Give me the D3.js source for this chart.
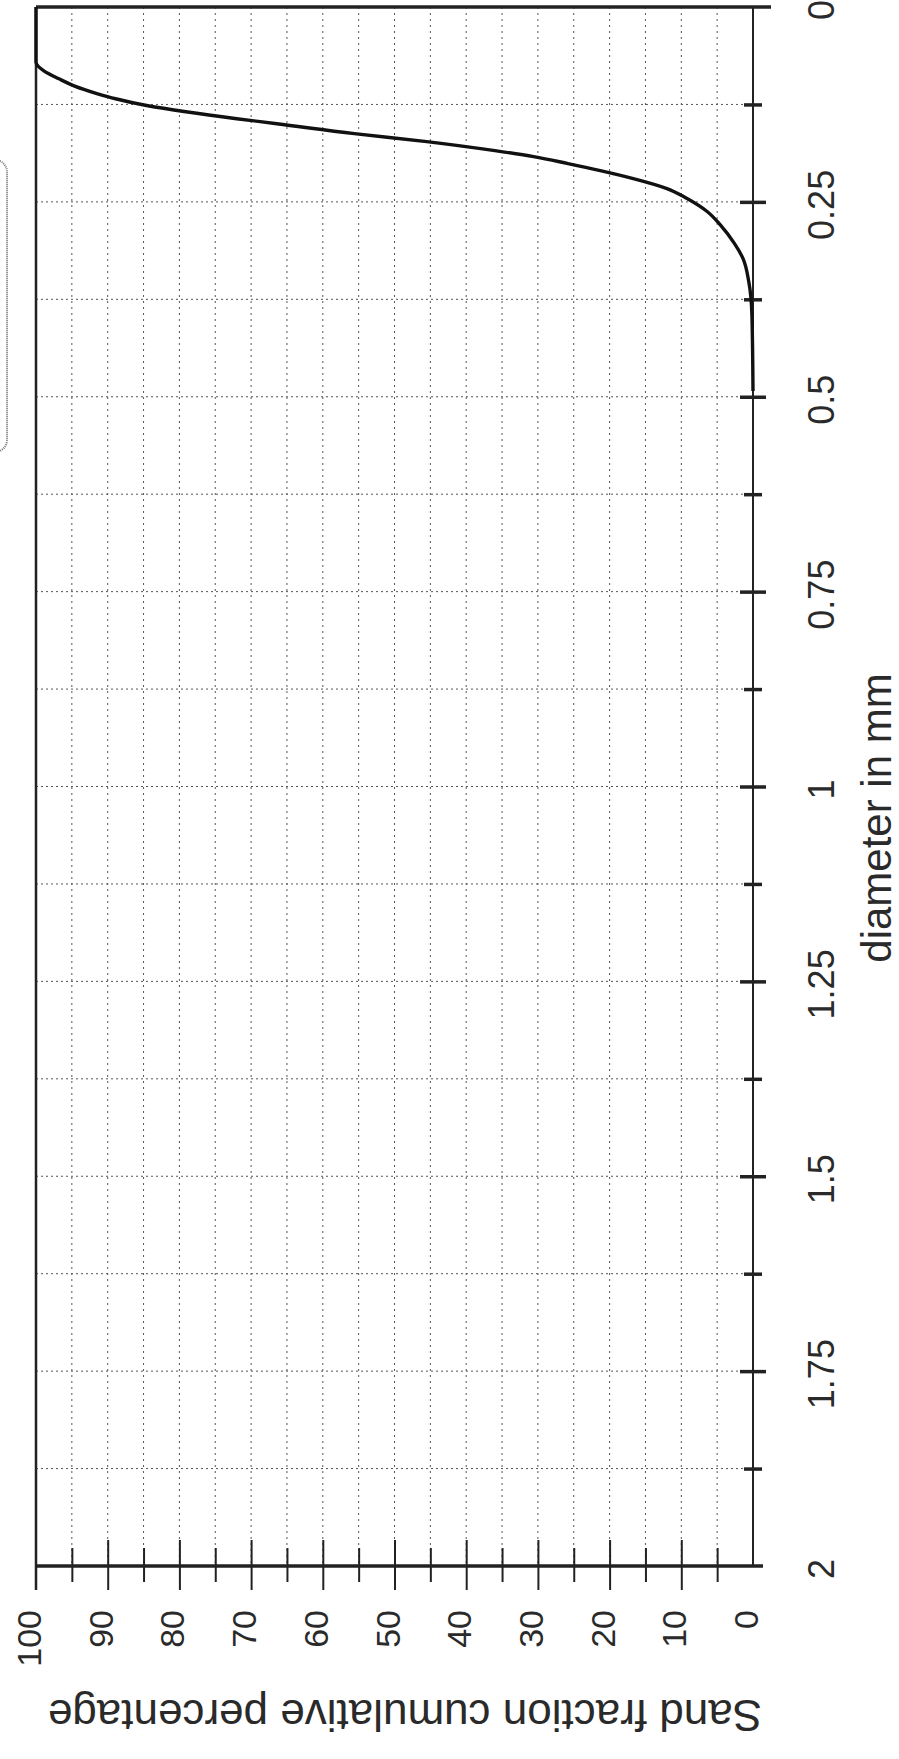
<!DOCTYPE html>
<html>
<head>
<meta charset="utf-8">
<script src="https://cdn.jsdelivr.net/npm/d3@7"></script>
<style>
  body { margin: 0; background: #fff; }
  text { font-family: "Liberation Sans", Arial, sans-serif; fill: #2a2a2a; }
</style>
</head>
<body>
<div id="chart-div"></div>
<script>

// grain size curve (diameter mm -> cumulative %)
const diameters = [0, 0.0704, 0.0819, 0.0921, 0.1011, 0.1113, 0.1177, 0.1267, 0.1344, 0.1433, 0.1497, 0.1625, 0.1727, 0.1843, 0.1919, 0.2009, 0.2099, 0.2201, 0.2329, 0.2457, 0.2623, 0.2802, 0.3033, 0.3225, 0.3519, 0.3954, 0.4926];
const percentages = [100, 100, 98.9, 96.8, 94.7, 91.4, 88.9, 84.4, 79.1, 72.0, 66.4, 55.6, 45.5, 36.0, 30.6, 25.8, 21.3, 16.7, 12.0, 9.2, 6.4, 4.5, 2.6, 1.4, 0.6, 0.15, 0];

const diameterTicks = [0, 0.125, 0.25, 0.375, 0.5, 0.625, 0.75, 0.875, 1, 1.125, 1.25, 1.375, 1.5, 1.625, 1.75, 1.875, 2];
const diameterLabels = [0, 0.25, 0.5, 0.75, 1, 1.25, 1.5, 1.75, 2];
const percentTicks = [0, 5, 10, 15, 20, 25, 30, 35, 40, 45, 50, 55, 60, 65, 70, 75, 80, 85, 90, 95, 100];
const percentLabels = [0, 10, 20, 30, 40, 50, 60, 70, 80, 90, 100];

const WIDTH = 899;
const HEIGHT = 1759;
// the page is the chart turned on its side: % runs right->left, diameter top->bottom
const PLOT = { left: 36, right: 753, top: 7, bottom: 1566 };

const pctScale = d3.scaleLinear().domain([0, 100]).range([PLOT.right, PLOT.left]);
const diaScale = d3.scaleLinear().domain([0, 2]).range([PLOT.top, PLOT.bottom]);

const svg = d3.select('#chart-div')
  .append('svg')
  .attr('width', WIDTH)
  .attr('height', HEIGHT);

// legend box, mostly cut off on the left
svg.append('rect')
  .attr('x', -160).attr('y', 160)
  .attr('width', 167).attr('height', 292)
  .attr('rx', 12)
  .attr('fill', 'none')
  .attr('stroke', '#777')
  .attr('stroke-width', 2)
  .attr('stroke-dasharray', '1,1');

// grid
svg.append('g').attr('id', 'grid-pct')
  .selectAll('line')
  .data(percentTicks.filter(d => d > 0 && d < 100))
  .join('line')
  .attr('x1', d => pctScale(d)).attr('x2', d => pctScale(d))
  .attr('y1', PLOT.top).attr('y2', PLOT.bottom)
  .attr('stroke', '#555')
  .attr('stroke-width', 1)
  .attr('stroke-dasharray', '2,4');

svg.append('g').attr('id', 'grid-dia')
  .selectAll('line')
  .data(diameterTicks.filter(d => d > 0 && d < 2))
  .join('line')
  .attr('x1', PLOT.left).attr('x2', PLOT.right)
  .attr('y1', d => diaScale(d)).attr('y2', d => diaScale(d))
  .attr('stroke', '#555')
  .attr('stroke-width', 1)
  .attr('stroke-dasharray', '2,3');

// frame
svg.append('line')
  .attr('x1', PLOT.left).attr('x2', PLOT.left)
  .attr('y1', PLOT.top).attr('y2', PLOT.bottom + 24)
  .attr('stroke', '#222').attr('stroke-width', 2.5);
svg.append('line')
  .attr('x1', PLOT.left).attr('x2', PLOT.right + 18)
  .attr('y1', PLOT.top).attr('y2', PLOT.top)
  .attr('stroke', '#222').attr('stroke-width', 3.5);

// diameter axis (right side)
const diaAxis = d3.axisRight(diaScale)
  .tickValues(diameterTicks.filter(d => d > 0 && d < 2))
  .tickSize(0)
  .tickFormat('');

const diaG = svg.append('g')
  .attr('id', 'dia-axis')
  .attr('transform', `translate(${PLOT.right},0)`)
  .call(diaAxis);
diaG.select('.domain').remove();
diaG.append('line')
  .attr('x1', 0).attr('x2', 0)
  .attr('y1', PLOT.top).attr('y2', PLOT.bottom)
  .attr('stroke', '#222').attr('stroke-width', 2);
diaG.selectAll('.tick line')
  .attr('x1', d => diameterLabels.includes(d) ? -13 : -9)
  .attr('x2', d => diameterLabels.includes(d) ? 13 : 9)
  .attr('stroke', '#222')
  .attr('stroke-width', 3.5);

diaG.selectAll('text.dia-label')
  .data(diameterLabels)
  .join('text')
  .attr('class', 'dia-label')
  .attr('transform', d => `translate(81,${diaScale(d) + 3}) rotate(-90)`)
  .attr('text-anchor', 'middle')
  .style('font-size', '36px')
  .text(d => String(d));

svg.append('text')
  .attr('transform', `translate(891,818) rotate(-90)`)
  .attr('text-anchor', 'middle')
  .style('font-size', '42px')
  .text('diameter in mm');

// percentage axis (bottom)
const pctAxis = d3.axisBottom(pctScale)
  .tickValues(percentTicks.filter(d => d > 0 && d < 100))
  .tickSize(0)
  .tickFormat('');

const pctG = svg.append('g')
  .attr('id', 'pct-axis')
  .attr('transform', `translate(0,${PLOT.bottom})`)
  .call(pctAxis);
pctG.select('.domain').remove();
pctG.selectAll('.tick line')
  .attr('y1', d => d % 10 === 0 ? -26 : -18)
  .attr('y2', d => d % 10 === 0 ? 24 : 16)
  .attr('stroke', '#222')
  .attr('stroke-width', 2);
pctG.append('line')
  .attr('x1', PLOT.left - 1).attr('x2', PLOT.right + 10)
  .attr('y1', 0).attr('y2', 0)
  .attr('stroke', '#222').attr('stroke-width', 3.5);

pctG.selectAll('text.pct-label')
  .data(percentLabels)
  .join('text')
  .attr('class', 'pct-label')
  .attr('transform', d => `translate(${pctScale(d) + 5},44) rotate(-90)`)
  .attr('text-anchor', 'end')
  .style('font-size', '34px')
  .text(d => d);

svg.append('text')
  .attr('transform', `translate(405,1700) rotate(180)`)
  .attr('text-anchor', 'middle')
  .style('font-size', '44px')
  .text('Sand fraction cumulative percentage');

// the curve
const points = diameters.map((d, i) => ({ dia: d, pct: percentages[i] }));

const line = d3.line()
  .x(d => pctScale(d.pct))
  .y(d => diaScale(d.dia))
  .curve(d3.curveMonotoneY);

svg.append('path')
  .datum(points)
  .attr('d', line)
  .attr('fill', 'none')
  .attr('stroke', '#111')
  .attr('stroke-width', 3.4)
  .attr('stroke-linejoin', 'round');

</script>
</body>
</html>
